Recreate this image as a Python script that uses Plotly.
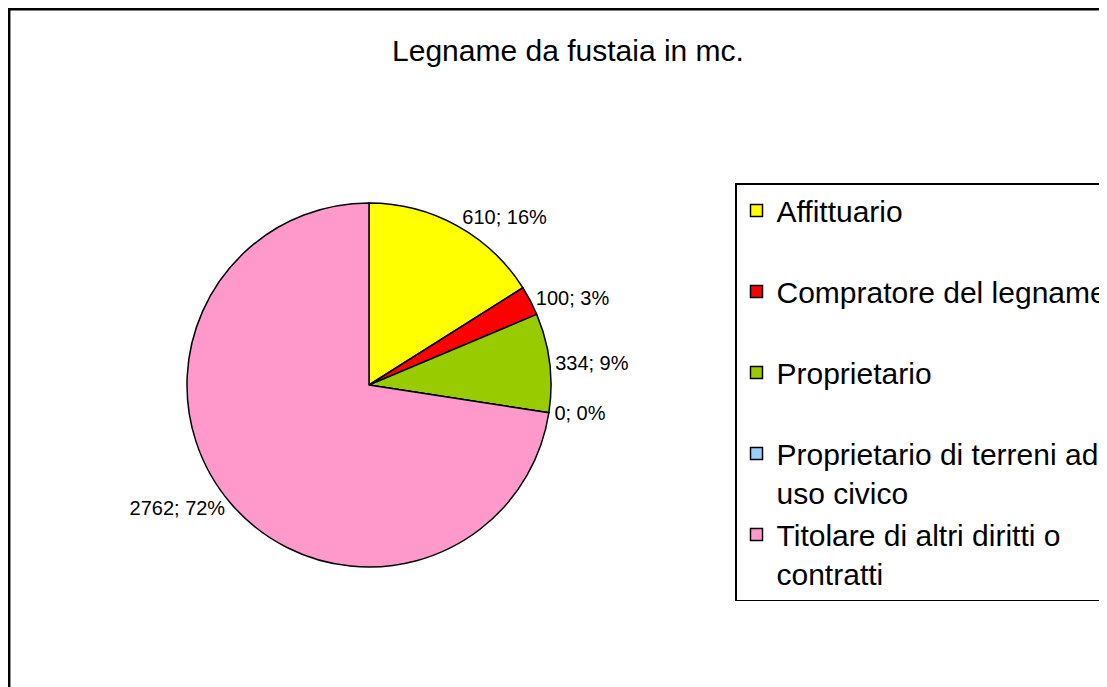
import plotly.graph_objects as go

title = "Legname da fustaia in mc."
categories = [
    "Affittuario<br> ",
    "Compratore del legname<br> ",
    "Proprietario<br> ",
    "Proprietario di terreni ad<br>uso civico",
    "Titolare di altri diritti o<br>contratti",
]
values = [610, 100, 334, 0, 2762]
pct_labels = ["16%", "3%", "9%", "0%", "72%"]
colors = ["#FFFF00", "#FF0000", "#99CC00", "#99CCFF", "#FF99CC"]

# page has an 8px body margin
OFF = 8
W, H = 1118, 687 - OFF
cx, cy, r = 369 - OFF, 385 - OFF, 182

text = [f"{v}; {p}" for v, p in zip(values, pct_labels)]

fig = go.Figure(go.Pie(
    labels=categories,
    values=values,
    text=text,
    textinfo="text",
    textposition="outside",
    sort=False,
    direction="clockwise",
    rotation=0,
    marker=dict(colors=colors, line=dict(color="black", width=1.5)),
    outsidetextfont=dict(family="Liberation Sans, Arial", size=20, color="black"),
    domain=dict(x=[(cx - r) / W, (cx + r) / W], y=[(H - cy - r) / H, (H - cy + r) / H]),
    hoverinfo="label+value+percent",
))

fig.update_layout(
    width=W, height=H,
    margin=dict(l=0, r=0, t=0, b=0),
    paper_bgcolor="white",
    plot_bgcolor="white",
    font=dict(family="Liberation Sans, Arial", color="black"),
    title=dict(text=title, x=(568 - OFF) / W, xanchor="center", y=1 - (50 - OFF) / H, yanchor="middle",
               font=dict(size=30, color="black")),
    legend=dict(
        x=(735 - OFF) / W, xanchor="left", y=1 - (183 - OFF) / H, yanchor="top",
        bordercolor="black", borderwidth=1.5, bgcolor="white",
        font=dict(size=30, color="black"),
        valign="top",
    ),
    shapes=[dict(type="rect", xref="paper", yref="paper",
                 x0=1.2 / W, x1=1.05, y0=-0.05, y1=1 - 1.2 / H,
                 line=dict(color="black", width=2.5))],
)

fig.write_html("out.html")
